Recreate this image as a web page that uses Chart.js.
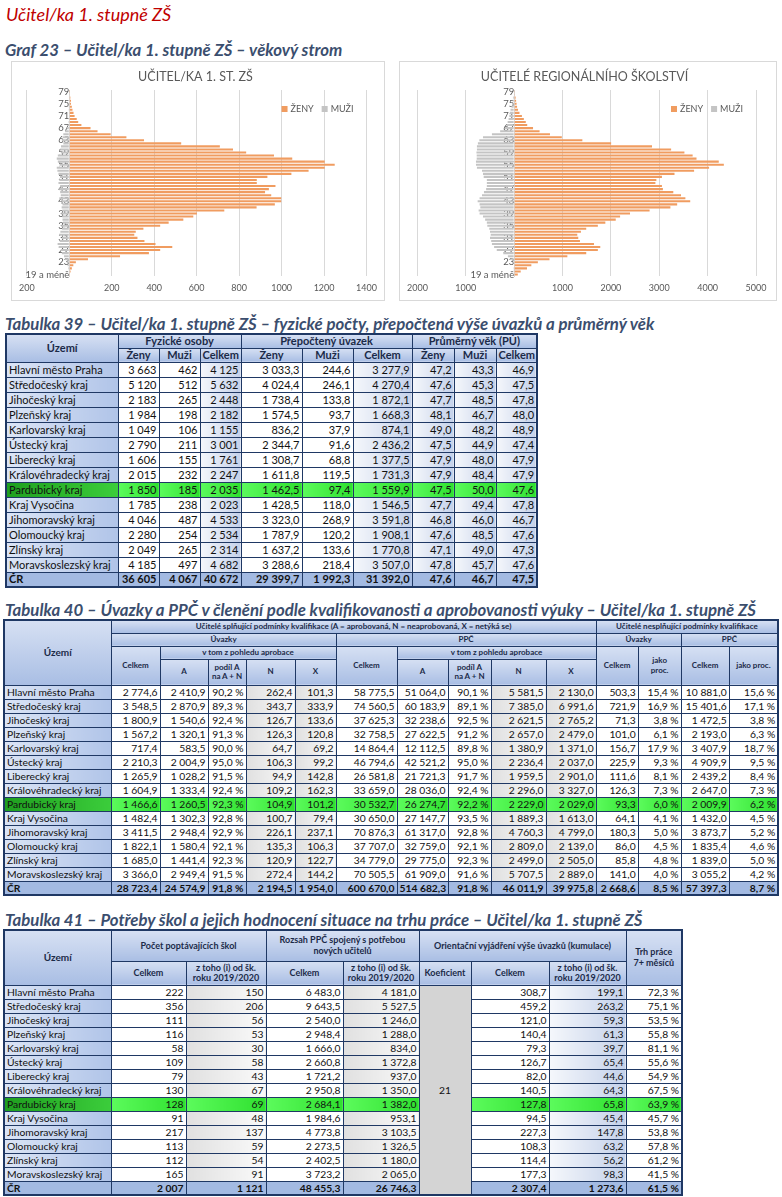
<!DOCTYPE html>
<html lang="cs">
<head>
<meta charset="utf-8">
<title>Učitel/ka 1. stupně ZŠ</title>
<script src="https://cdn.jsdelivr.net/npm/chart.js@4.4.1/dist/chart.umd.min.js"></script>
<style>
  html, body { margin:0; padding:0; background:#fff; }
  body { width:782px; height:1197px; position:relative; overflow:hidden; font-family: Lato, "Noto Sans", sans-serif; }
  .abs { position:absolute; }
  .h1 { left:6px; top:3px; font-size:18px; font-style:italic; color:#c00000; line-height:22px; }
  .cap { left:5px; font-size:16.8px; font-weight:bold; font-style:italic; color:#3b4e6e; line-height:18px; white-space:nowrap; }
  .box { background:#fff; box-shadow:0 0 0 1px #d9d9d9; }
  table { border-collapse:collapse; table-layout:fixed; border:2px solid #1f3864; }
  td, th { border:1px solid #1f3864; padding:0 2px; overflow:hidden; }
  th { font-weight:bold; color:#1b2a48; background:linear-gradient(#d6e0f3,#a9bee4); text-align:center; line-height:1.15; }
  td { text-align:right; color:#111; white-space:nowrap; line-height:12px; }
  td.r { text-align:left; background:linear-gradient(to right,#dbe4f5,#b0c4e8); }
  td.b { background:linear-gradient(to right,#f5f7fb,#c4d1ea); }
  td.g { background:linear-gradient(to right,#e0e0e0,#fafafa); }
  td.k { background:#d4d4d4; text-align:center; }
  tr.cr td { background:#a3bae2; font-weight:bold; }
  tr.pa td { background:linear-gradient(to right,#5cfb5c,#2fe02f); }
  tr.pa td.r { background:linear-gradient(to right,#1f9f1f,#3bcd3b); }
  #t39 { font-size:11px; }
  #t39 th { font-size:11px; }
  #t40, #t41 { font-size:10.3px; }
  #t40 th { font-size:8px; }
  #t41 th { font-size:9px; }
</style>
</head>
<body>

<div class="abs h1">Učitel/ka 1. stupně ZŠ</div>
<div class="abs cap" style="top:41px">Graf 23 – Učitel/ka 1. stupně ZŠ – věkový strom</div>

<div class="abs box" style="left:12px;top:62px;width:372px;height:238px"><canvas id="graf1"></canvas></div>
<div class="abs box" style="left:400px;top:62px;width:376px;height:238px"><canvas id="graf2"></canvas></div>

<div class="abs cap" style="top:315px">Tabulka 39 – Učitel/ka 1. stupně ZŠ – fyzické počty, přepočtená výše úvazků a průměrný věk</div>
<div class="abs" style="left:5px;top:333px">
<table id="t39" style="width:531px">
  <colgroup><col style="width:112px"><col style="width:41px"><col style="width:41px"><col style="width:41px"><col style="width:61px"><col style="width:51px"><col style="width:59px"><col style="width:42px"><col style="width:42px"><col style="width:41px"></colgroup>
  <tr style="height:14px"><th rowspan="2">Území</th><th colspan="3">Fyzické osoby</th><th colspan="3">Přepočtený úvazek</th><th colspan="3">Průměrný věk (PÚ)</th></tr>
  <tr style="height:14px"><th>Ženy</th><th>Muži</th><th>Celkem</th><th>Ženy</th><th>Muži</th><th>Celkem</th><th>Ženy</th><th>Muži</th><th>Celkem</th></tr>
</table>
</div>

<div class="abs cap" style="top:601px">Tabulka 40 – Úvazky a PPČ v členění podle kvalifikovanosti a aprobovanosti výuky – Učitel/ka 1. stupně ZŠ</div>
<div class="abs" style="left:3px;top:619px">
<table id="t40" style="width:774px">
  <colgroup><col style="width:107px"><col style="width:49px"><col style="width:48px"><col style="width:38px"><col style="width:49px"><col style="width:41px"><col style="width:61px"><col style="width:51px"><col style="width:43px"><col style="width:55px"><col style="width:50px"><col style="width:42px"><col style="width:43px"><col style="width:48px"><col style="width:49px"></colgroup>
  <tr style="height:13px"><th rowspan="4" style="font-size:10px">Území</th><th colspan="10">Učitelé splňující podmínky kvalifikace (A = aprobovaná, N = neaprobovaná, X = netýká se)</th><th colspan="4">Učitelé nesplňující podmínky kvalifikace</th></tr>
  <tr style="height:13px"><th colspan="5">Úvazky</th><th colspan="5">PPČ</th><th colspan="2">Úvazky</th><th colspan="2">PPČ</th></tr>
  <tr style="height:13px"><th rowspan="2">Celkem</th><th colspan="4">v tom z pohledu aprobace</th><th rowspan="2">Celkem</th><th colspan="4">v tom z pohledu aprobace</th><th rowspan="2">Celkem</th><th rowspan="2">jako<br>proc.</th><th rowspan="2">Celkem</th><th rowspan="2">jako proc.</th></tr>
  <tr style="height:26px"><th>A</th><th>podíl A<br>na A + N</th><th>N</th><th>X</th><th>A</th><th>podíl A<br>na A + N</th><th>N</th><th>X</th></tr>
</table>
</div>

<div class="abs cap" style="top:911px">Tabulka 41 – Potřeby škol a jejich hodnocení situace na trhu práce – Učitel/ka 1. stupně ZŠ</div>
<div class="abs" style="left:3px;top:929px">
<table id="t41" style="width:678px">
  <colgroup><col style="width:107px"><col style="width:75px"><col style="width:80px"><col style="width:77px"><col style="width:76px"><col style="width:52px"><col style="width:78px"><col style="width:77px"><col style="width:56px"></colgroup>
  <tr style="height:31px"><th rowspan="2" style="font-size:10px">Území</th><th colspan="2">Počet poptávajících škol</th><th colspan="2">Rozsah PPČ spojený s potřebou<br>nových učitelů</th><th colspan="3">Orientační vyjádření výše úvazků (kumulace)</th><th rowspan="2">Trh práce<br>7+ měsíců</th></tr>
  <tr style="height:24px"><th>Celkem</th><th>z toho (i) od šk.<br>roku 2019/2020</th><th>Celkem</th><th>z toho (i) od šk.<br>roku 2019/2020</th><th>Koeficient</th><th>Celkem</th><th>z toho (i) od šk.<br>roku 2019/2020</th></tr>
</table>
</div>

<script>
// věkové skupiny (osa Y grafů)
const vekoveSkupiny = ['19 a méně','20','21','22','23','24','25','26','27','28','29','30','31','32','33','34','35','36','37','38','39','40','41','42','43','44','45','46','47','48','49','50','51','52','53','54','55','56','57','58','59','60','61','62','63','64','65','66','67','68','69','70','71','72','73','74','75','76','77','78','79'];

// Graf 23 vlevo – učitel/ka 1. st. ZŠ
const ucitelZeny = [3,6,12,19,31,88,239,375,428,485,406,354,321,306,313,349,428,468,537,584,601,730,882,968,998,998,951,922,940,971,883,883,933,1046,1127,1203,1250,1203,1050,964,833,771,709,527,352,269,195,133,100,57,42,35,25,20,15,12,8,8,5,2,1];
const ucitelMuzi = [-2,-3,-5,-8,-12,-18,-25,-35,-40,-50,-55,-45,-35,-48,-42,-34,-38,-30,-32,-33,-38,-33,-36,-32,-36,-47,-40,-43,-47,-43,-51,-47,-44,-51,-56,-59,-46,-54,-59,-54,-40,-43,-39,-28,-35,-31,-28,-20,-12,-6,-4,-3,-2,-2,-1,-1,-1,0,0,0,0];

// Graf 23 vpravo – učitelé regionálního školství
const regionZeny = [75,135,265,355,490,730,1100,1490,1730,1780,1650,1360,1325,1305,1380,1490,1730,1885,2100,2190,2395,2800,3230,3370,3640,3540,3450,3290,3075,3055,2920,2940,3055,3315,3720,4030,4335,4230,3770,3690,3520,3245,2850,2005,1410,985,740,525,390,270,240,200,160,110,80,60,50,40,30,15,5];
const regionMuzi = [-2,-3,-5,-10,-25,-60,-130,-225,-360,-415,-460,-475,-500,-485,-500,-515,-555,-565,-600,-645,-715,-735,-700,-715,-755,-715,-665,-625,-580,-565,-565,-565,-630,-645,-665,-770,-790,-790,-775,-775,-780,-770,-770,-750,-720,-645,-460,-290,-190,-155,-135,-115,-100,-90,-75,-55,-40,-30,-25,-10,-10];

// tabulky
const uzemi = ['Hlavní město Praha','Středočeský kraj','Jihočeský kraj','Plzeňský kraj','Karlovarský kraj','Ústecký kraj','Liberecký kraj','Královéhradecký kraj','Pardubický kraj','Kraj Vysočina','Jihomoravský kraj','Olomoucký kraj','Zlínský kraj','Moravskoslezský kraj','ČR'];

const fyzZeny = [3663,5120,2183,1984,1049,2790,1606,2015,1850,1785,4046,2280,2049,4185,36605];
const fyzMuzi = [462,512,265,198,106,211,155,232,185,238,487,254,265,497,4067];
const fyzCelkem = [4125,5632,2448,2182,1155,3001,1761,2247,2035,2023,4533,2534,2314,4682,40672];
const uvZeny = [3033.3,4024.4,1738.4,1574.5,836.2,2344.7,1308.7,1611.8,1462.5,1428.5,3323.0,1787.9,1637.2,3288.6,29399.7];
const uvMuzi = [244.6,246.1,133.8,93.7,37.9,91.6,68.8,119.5,97.4,118.0,268.9,120.2,133.6,218.4,1992.3];
const uvCelkem = [3277.9,4270.4,1872.1,1668.3,874.1,2436.2,1377.5,1731.3,1559.9,1546.5,3591.8,1908.1,1770.8,3507.0,31392.0];
const vekZeny = [47.2,47.6,47.7,48.1,49.0,47.5,47.9,47.9,47.5,47.7,46.8,47.6,47.1,47.8,47.6];
const vekMuzi = [43.3,45.3,48.5,46.7,48.2,44.9,48.0,48.4,50.0,49.4,46.0,48.5,49.0,45.7,46.7];
const vekCelkem = [46.9,47.5,47.8,48.0,48.9,47.4,47.9,47.9,47.6,47.8,46.7,47.6,47.3,47.6,47.5];

const kvUvCelkem = [2774.6,3548.5,1800.9,1567.2,717.4,2210.3,1265.9,1604.9,1466.6,1482.4,3411.5,1822.1,1685.0,3366.0,28723.4];
const kvUvA = [2410.9,2870.9,1540.6,1320.1,583.5,2004.9,1028.2,1333.4,1260.5,1302.3,2948.4,1580.4,1441.4,2949.4,24574.9];
const kvUvPodil = [90.2,89.3,92.4,91.3,90.0,95.0,91.5,92.4,92.3,92.8,92.9,92.1,92.3,91.5,91.8];
const kvUvN = [262.4,343.7,126.7,126.3,64.7,106.3,94.9,109.2,104.9,100.7,226.1,135.3,120.9,272.4,2194.5];
const kvUvX = [101.3,333.9,133.6,120.8,69.2,99.2,142.8,162.3,101.2,79.4,237.1,106.3,122.7,144.2,1954.0];
const kvPpcCelkem = [58775.5,74560.5,37625.3,32758.5,14864.4,46794.6,26581.8,33659.0,30532.7,30650.0,70876.3,37707.0,34779.0,70505.5,600670.0];
const kvPpcA = [51064.0,60183.9,32238.6,27622.5,12112.5,42521.2,21721.3,28036.0,26274.7,27147.7,61317.0,32759.0,29775.0,61909.0,514682.3];
const kvPpcPodil = [90.1,89.1,92.5,91.2,89.8,95.0,91.7,92.4,92.2,93.5,92.8,92.1,92.3,91.6,91.8];
const kvPpcN = [5581.5,7385.0,2621.5,2657.0,1380.9,2236.4,1959.5,2296.0,2229.0,1889.3,4760.3,2809.0,2499.0,5707.5,46011.9];
const kvPpcX = [2130.0,6991.6,2765.2,2479.0,1371.0,2037.0,2901.0,3327.0,2029.0,1613.0,4799.0,2139.0,2505.0,2889.0,39975.8];
const nkUv = [503.3,721.9,71.3,101.0,156.7,225.9,111.6,126.3,93.3,64.1,180.3,86.0,85.8,141.0,2668.6];
const nkUvProc = [15.4,16.9,3.8,6.1,17.9,9.3,8.1,7.3,6.0,4.1,5.0,4.5,4.8,4.0,8.5];
const nkPpc = [10881.0,15401.6,1472.5,2193.0,3407.9,4909.9,2439.2,2647.0,2009.9,1432.0,3873.7,1835.4,1839.0,3055.2,57397.3];
const nkPpcProc = [15.6,17.1,3.8,6.3,18.7,9.5,8.4,7.3,6.2,4.5,5.2,4.6,5.0,4.2,8.7];

const skolyCelkem = [222,356,111,116,58,109,79,130,128,91,217,113,112,165,2007];
const skolyOd2019 = [150,206,56,53,30,58,43,67,69,48,137,59,54,91,1121];
const ppcPotreba = [6483.0,9643.5,2540.0,2948.4,1666.0,2660.8,1721.2,2950.8,2684.1,1984.6,4773.8,2273.5,2402.5,3723.2,48455.3];
const ppcPotrebaOd2019 = [4181.0,5527.5,1246.0,1288.0,834.0,1372.8,937.0,1350.0,1382.0,953.1,3103.5,1326.5,1180.0,2065.0,26746.3];
const koeficient = 21;
const uvazkyKumulace = [308.7,459.2,121.0,140.4,79.3,126.7,82.0,140.5,127.8,94.5,227.3,108.3,114.4,177.3,2307.4];
const uvazkyKumulaceOd2019 = [199.1,263.2,59.3,61.3,39.7,65.4,44.6,64.3,65.8,45.4,147.8,63.2,56.2,98.3,1273.6];
const trhPrace7 = [72.3,75.1,53.5,55.8,81.1,55.6,54.9,67.5,63.9,45.7,53.8,57.8,61.2,41.5,61.5];

// české formátování čísel
function cz(v, dec) {
  const s = v.toFixed(dec).split('.');
  const cele = s[0].replace(/\B(?=(\d{3})+(?!\d))/g, '\u00a0');
  return s.length > 1 ? cele + ',' + s[1] : cele;
}
const pct = (v) => cz(v, 1) + '\u00a0%';

function addRows(tableId, rowHeight, cols) {
  const table = document.getElementById(tableId);
  uzemi.forEach((nazev, i) => {
    const tr = document.createElement('tr');
    tr.style.height = rowHeight + 'px';
    if (nazev === 'ČR') tr.className = 'cr';
    if (nazev === 'Pardubický kraj') tr.className = 'pa';
    const th = document.createElement('td');
    th.className = 'r';
    th.textContent = nazev;
    tr.appendChild(th);
    cols.forEach((c) => {
      if (c.span) {
        if (i === 0) {
          const td = document.createElement('td');
          td.rowSpan = uzemi.length;
          td.className = 'k';
          td.textContent = c.span;
          tr.appendChild(td);
        }
        return;
      }
      const td = document.createElement('td');
      if (c.cls) td.className = c.cls;
      td.textContent = c.fmt(c.data[i]);
      tr.appendChild(td);
    });
    table.appendChild(tr);
  });
}

const f0 = (v) => cz(v, 0);
const f1 = (v) => cz(v, 1);

addRows('t39', 15, [
  {data: fyzZeny, fmt: f0}, {data: fyzMuzi, fmt: f0}, {data: fyzCelkem, fmt: f0, cls: 'b'},
  {data: uvZeny, fmt: f1}, {data: uvMuzi, fmt: f1}, {data: uvCelkem, fmt: f1, cls: 'b'},
  {data: vekZeny, fmt: f1, cls: 'b'}, {data: vekMuzi, fmt: f1, cls: 'b'}, {data: vekCelkem, fmt: f1, cls: 'b'}
]);

addRows('t40', 14, [
  {data: kvUvCelkem, fmt: f1}, {data: kvUvA, fmt: f1}, {data: kvUvPodil, fmt: pct},
  {data: kvUvN, fmt: f1, cls: 'g'}, {data: kvUvX, fmt: f1, cls: 'g'},
  {data: kvPpcCelkem, fmt: f1}, {data: kvPpcA, fmt: f1}, {data: kvPpcPodil, fmt: pct},
  {data: kvPpcN, fmt: f1, cls: 'g'}, {data: kvPpcX, fmt: f1, cls: 'g'},
  {data: nkUv, fmt: f1}, {data: nkUvProc, fmt: pct}, {data: nkPpc, fmt: f1}, {data: nkPpcProc, fmt: pct}
]);

addRows('t41', 14, [
  {data: skolyCelkem, fmt: f0}, {data: skolyOd2019, fmt: f0, cls: 'g'},
  {data: ppcPotreba, fmt: f1}, {data: ppcPotrebaOd2019, fmt: f1, cls: 'g'},
  {span: koeficient},
  {data: uvazkyKumulace, fmt: f1}, {data: uvazkyKumulaceOd2019, fmt: f1, cls: 'b'},
  {data: trhPrace7, fmt: pct}
]);

// grafy – věkové stromy
Chart.defaults.font.family = 'Lato, "Noto Sans", sans-serif';
Chart.defaults.color = '#595959';

// legenda v pravém horním rohu plochy grafu (jako v Excelu)
const legendaVPloše = {
  id: 'legendaVPlose',
  afterDraw(chart) {
    const {ctx, chartArea} = chart;
    ctx.save();
    ctx.font = '9px Lato, "Noto Sans", sans-serif';
    ctx.textBaseline = 'middle';
    ctx.textAlign = 'left';
    let x = chartArea.right - 13;
    const y = chartArea.top + 19;
    chart.data.datasets.slice().reverse().forEach((ds) => {
      x -= ctx.measureText(ds.label).width;
      ctx.fillStyle = '#595959';
      ctx.fillText(ds.label, x, y);
      x -= 9;
      ctx.fillStyle = ds.backgroundColor;
      ctx.fillRect(x, y - 3, 6, 6);
      x -= 8;
    });
    ctx.restore();
  }
};

function vekovyStrom(id, titulek, zeny, muzi, min, max, krok, padLeft, padRight) {
  const ctx = document.getElementById(id).getContext('2d');
  return new Chart(ctx, {
    type: 'bar',
    data: {
      labels: vekoveSkupiny,
      datasets: [
        {label: 'ŽENY', data: zeny, backgroundColor: '#F09C60'},
        {label: 'MUŽI', data: muzi, backgroundColor: '#C4C4C4'}
      ]
    },
    options: {
      indexAxis: 'y',
      responsive: true,
      maintainAspectRatio: false,
      animation: false,
      barPercentage: 1,
      categoryPercentage: 0.68,
      layout: {padding: {left: padLeft, right: padRight, top: 0, bottom: 2}},
      plugins: {
        title: {
          display: true, text: titulek, color: '#595959',
          font: {size: 12.5, weight: 'normal'}, padding: {top: 7, bottom: 6}
        },
        legend: {display: false},
        tooltip: {enabled: false}
      },
      scales: {
        x: {
          stacked: true, min: min, max: max,
          ticks: {stepSize: krok, padding: 7, font: {size: 9}, color: '#595959',
            callback: (v) => v === 0 ? '' : String(Math.abs(v))},
          grid: {color: '#d9d9d9', drawTicks: false},
          border: {display: false},
          afterFit: (scale) => { scale.height = 22; }
        },
        y: {
          stacked: true, reverse: true, position: {x: 0}, z: 1,
          grid: {display: false, drawTicks: false},
          border: {color: '#d9d9d9'},
          ticks: {autoSkip: false, padding: 5, font: {size: 9.5}, color: '#595959',
            callback: (v, i) => i % 4 === 0 ? vekoveSkupiny[i] : ''}
        }
      }
    },
    plugins: [legendaVPloše]
  });
}

vekovyStrom('graf1', 'UČITEL/KA 1. ST. ZŠ', ucitelZeny, ucitelMuzi, -200, 1400, 200, 11, 16);
vekovyStrom('graf2', 'UČITELÉ REGIONÁLNÍHO ŠKOLSTVÍ', regionZeny, regionMuzi, -2000, 5000, 1000, 13, 20);
</script>
</body>
</html>
